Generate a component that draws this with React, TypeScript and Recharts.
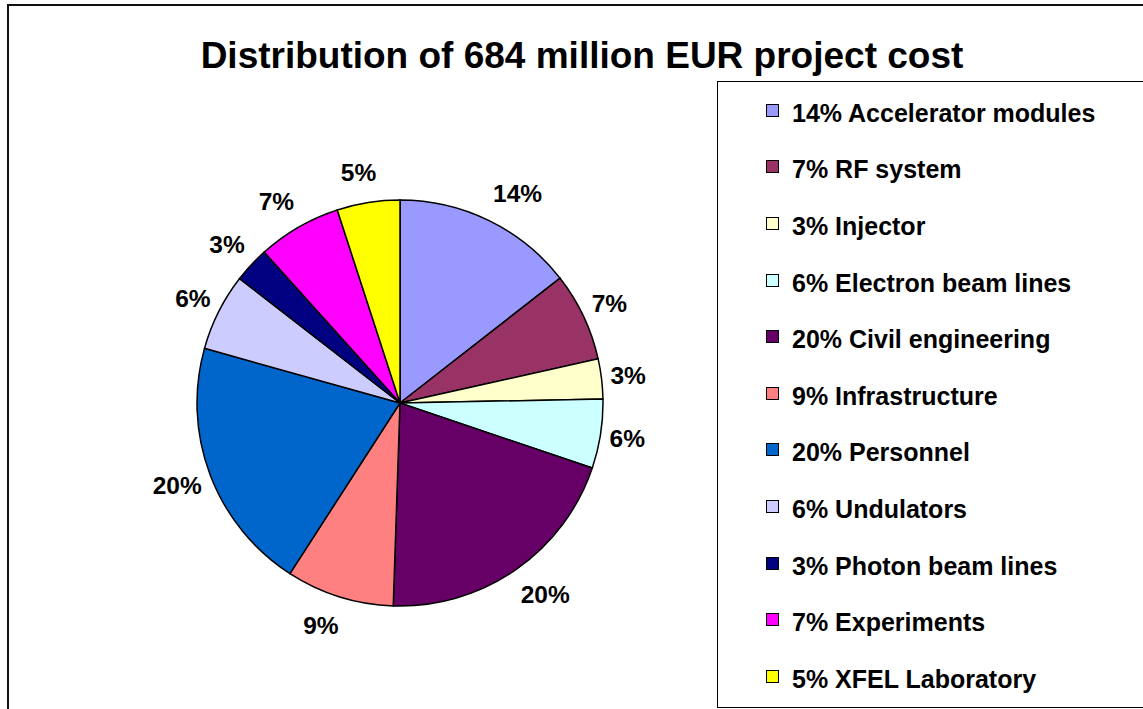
import { PieChart, Pie, Cell, Legend } from 'recharts'

const categories = [
    'Accelerator modules',
    'RF system',
    'Injector',
    'Electron beam lines',
    'Civil engineering',
    'Infrastructure',
    'Personnel',
    'Undulators',
    'Photon beam lines',
    'Experiments',
    'XFEL Laboratory',
]

// share of total cost in percent
const costShares = [14.46, 7.05, 3.18, 5.5, 20.34, 8.59, 20.22, 6.16, 2.84, 6.66, 5.0]

// rounded labels as printed on the chart
const percentLabels = ['14%', '7%', '3%', '6%', '20%', '9%', '20%', '6%', '3%', '7%', '5%']

const colors = [
    '#9999FF',
    '#993366',
    '#FFFFCC',
    '#CCFFFF',
    '#660066',
    '#FF8080',
    '#0066CC',
    '#CCCCFF',
    '#000080',
    '#FF00FF',
    '#FFFF00',
]

const FONT = '"Liberation Sans", Arial, Helvetica, sans-serif'
const LABEL_SIZE = 24.5

const data = categories.map((name, i) => ({
    name: `${percentLabels[i]} ${name}`,
    value: costShares[i],
    fill: colors[i],
}))

const RAD = Math.PI / 180

// rough Excel-like placement: labels sit outside the rim, pushed sideways by half their width
const renderLabel = ({ cx, cy, midAngle, index }: any) => {
    const text = percentLabels[index]
    const ux = Math.cos(midAngle * RAD)
    const uy = Math.sin(midAngle * RAD)
    const w = ((text.length - 1) * 0.556 + 0.889) * LABEL_SIZE
    const side = Math.max(-1, Math.min(1, ux * 3))
    const x = cx + 212 * ux + (w / 2) * side
    const y = cy - 233 * uy
    return (
        <text
            x={x}
            y={y}
            textAnchor="middle"
            dominantBaseline="central"
            fill="#000"
            style={{ fontFamily: FONT, fontWeight: 700, fontSize: LABEL_SIZE }}
        >
            {text}
        </text>
    )
}

// legend box keeps the data order (recharts would sort it by name)
const renderLegend = () => (
    <div
        style={{
            width: 440,
            height: 627,
            boxSizing: 'border-box',
            border: '1px solid #000',
            background: '#fff',
            paddingTop: 3,
        }}
    >
        {data.map((entry, i) => (
            <div
                key={i}
                style={{
                    height: 56.6,
                    display: 'flex',
                    alignItems: 'center',
                    paddingLeft: 48,
                    fontFamily: FONT,
                    fontWeight: 700,
                    fontSize: 25,
                    color: '#000',
                    whiteSpace: 'nowrap',
                }}
            >
                <span
                    style={{
                        display: 'inline-block',
                        width: 11,
                        height: 11,
                        border: '1px solid #000',
                        background: entry.fill,
                        marginRight: 13,
                        position: 'relative',
                        top: -3,
                    }}
                />
                <span>{entry.name}</span>
            </div>
        ))}
    </div>
)

export default function App() {
    return (
        <div
            style={{
                position: 'absolute',
                left: 0,
                top: 0,
                width: 1143,
                height: 709,
                overflow: 'hidden',
                background: '#fff',
            }}
        >
            <div
                style={{
                    position: 'absolute',
                    left: 7,
                    top: 4,
                    width: 1200,
                    height: 800,
                    borderLeft: '2px solid #111',
                    borderTop: '2px solid #111',
                }}
            />
            <div
                style={{
                    position: 'absolute',
                    left: 0,
                    top: 37,
                    width: 1164,
                    textAlign: 'center',
                    fontFamily: FONT,
                    fontWeight: 700,
                    fontSize: 37,
                    lineHeight: '37px',
                    color: '#000',
                    whiteSpace: 'nowrap',
                }}
            >
                Distribution of 684 million EUR project cost
            </div>
            <div style={{ position: 'absolute', left: 0, top: 0 }}>
                <PieChart width={1143} height={709} margin={{ top: 0, right: 0, bottom: 0, left: 0 }}>
                    <Pie
                        data={data}
                        dataKey="value"
                        nameKey="name"
                        cx={400}
                        cy={403}
                        outerRadius={203}
                        startAngle={90}
                        endAngle={-270}
                        stroke="#000"
                        strokeWidth={1.5}
                        label={renderLabel}
                        labelLine={false}
                        isAnimationActive={false}
                    >
                        {data.map((d, i) => (
                            <Cell key={i} fill={d.fill} stroke="#000" strokeWidth={1.5} />
                        ))}
                    </Pie>
                    <Legend
                        layout="vertical"
                        align="right"
                        verticalAlign="top"
                        content={renderLegend}
                        wrapperStyle={{ position: 'absolute', left: 717, top: 81, right: 'auto', width: 440 }}
                    />
                </PieChart>
            </div>
        </div>
    )
}
